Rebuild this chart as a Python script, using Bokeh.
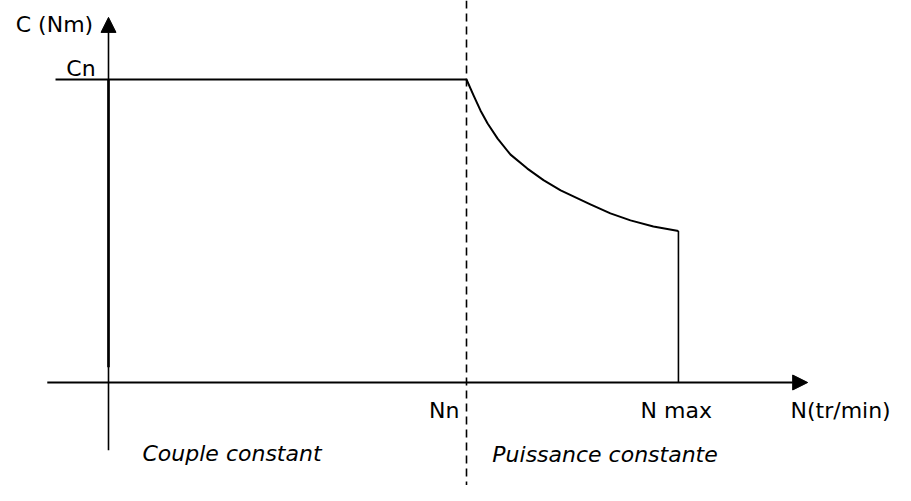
from bokeh.plotting import figure
from bokeh.models import Range1d, Span, Label, Arrow, NormalHead
from bokeh.embed import file_html
from bokeh.resources import INLINE

# ---- data (normalised units: Nn = 1, Cn = 1) ----
N_N = 1.0          # nominal speed Nn
N_MAX = 1.592      # maximum speed
C_N = 1.0          # nominal torque Cn
C_AT_NMAX = 0.5    # torque at N max

# constant-power region
n_curve = [1.000, 1.020, 1.039, 1.059, 1.087, 1.123, 1.170, 1.215, 1.263,
           1.346, 1.402, 1.458, 1.522, 1.592]
c_curve = [1.000, 0.947, 0.898, 0.855, 0.805, 0.752, 0.706, 0.668, 0.634,
           0.588, 0.558, 0.535, 0.515, 0.500]

# axis extents
x_axis_from, x_axis_to = -0.171, 1.953
y_axis_from, y_axis_to = -0.224, 1.205
cn_tick_from = -0.148

labels_text = ["C (Nm)", "Cn", "Nn", "N max", "N(tr/min)"]
region_text = ["Couple constant", "Puissance constante"]

FONT = "DejaVu Sans"
BLACK = "#000000"

p = figure(width=895, height=485, output_backend="svg", toolbar_location=None,
           x_range=Range1d(-108 / 358, 787 / 358), y_range=Range1d(-103 / 303, 382 / 303),
           x_axis_type=None, y_axis_type=None, min_border=0)
p.outline_line_color = None
p.xgrid.visible = False
p.ygrid.visible = False
p.background_fill_color = "white"

# dashed vertical at Nn
p.add_layout(Span(location=N_N, dimension="height", line_color=BLACK,
                  line_width=1.6, line_dash="8 5"))

# axes with arrows
p.add_layout(Arrow(x_start=x_axis_from, y_start=0, x_end=x_axis_to, y_end=0,
                   line_color=BLACK, line_width=2,
                   end=NormalHead(size=15, fill_color=BLACK, line_color=BLACK, line_width=1)))
p.add_layout(Arrow(x_start=0, y_start=y_axis_from, x_end=0, y_end=y_axis_to,
                   line_color=BLACK, line_width=1.6,
                   end=NormalHead(size=15, fill_color=BLACK, line_color=BLACK, line_width=1)))
# heavier left edge of the constant-torque zone
p.line([0, 0], [0.05, C_N], line_color=BLACK, line_width=2.6)

# Cn tick and constant torque
p.line([cn_tick_from, N_N], [C_N, C_N], line_color=BLACK, line_width=2)
# constant power curve
p.line(n_curve, c_curve, line_color=BLACK, line_width=2, line_join="round")
# drop at N max
p.line([N_MAX, N_MAX], [C_AT_NMAX, 0], line_color=BLACK, line_width=1.6)

DY = 8 / 303  # baseline correction

def lab(txt, x, y, italic=False):
    p.add_layout(Label(x=x, y=y + DY, text=txt, text_font=FONT, text_font_size="22px",
                       text_color=BLACK, text_align="center", text_baseline="alphabetic",
                       text_font_style="italic" if italic else "normal"))

lab(labels_text[0], -0.151, 1.155)
lab(labels_text[1], -0.077, 1.010)
lab(labels_text[2], N_N - 0.062, -0.119)
lab(labels_text[3], N_MAX - 0.006, -0.119)
lab(labels_text[4], 2.045, -0.119)
lab(region_text[0], 0.345, -0.261, italic=True)
lab(region_text[1], 1.387, -0.264, italic=True)

open("out.html", "w").write(file_html(p, INLINE))
